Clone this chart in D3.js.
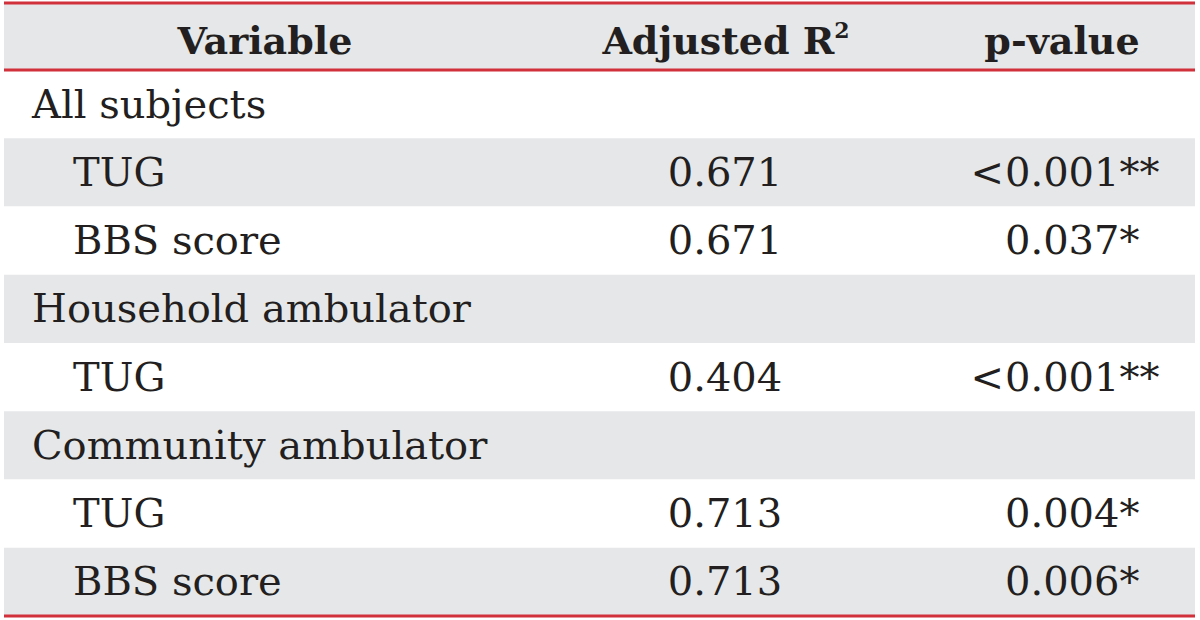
<!DOCTYPE html>
<html>
<head>
<meta charset="utf-8">
<script src="https://cdn.jsdelivr.net/npm/d3@7"></script>
<style>
  html, body { margin: 0; padding: 0; background: #ffffff; }
  svg { display: block; }
  text { font-family: "DejaVu Serif", serif; fill: #231f20; }
</style>
</head>
<body>
<svg id="chart" width="1200" height="620"></svg>
<script>
// ---- data ----
const columns = ["Variable", "Adjusted R", "p-value"];
const variables = ["All subjects", "TUG", "BBS score", "Household ambulator", "TUG", "Community ambulator", "TUG", "BBS score"];
const isGroup = [true, false, false, true, false, true, false, false];
const adjustedR2 = ["", "0.671", "0.671", "", "0.404", "", "0.713", "0.713"];
const pValues = ["", "<0.001**", "0.037*", "", "<0.001**", "", "0.004*", "0.006*"];

const svg = d3.select("#chart");
const left = 4, right = 1195;
const headerTop = 3, headerBottom = 70, tableBottom = 616;
const gray = "#e6e7e9", red = "#d0313b";

const rowIdx = d3.range(variables.length);
const y = d3.scaleBand().domain(rowIdx).range([headerBottom, tableBottom]).padding(0);

// header background
svg.append("rect").attr("x", left).attr("y", headerTop).attr("width", right - left).attr("height", headerBottom - headerTop).attr("fill", gray);

// row backgrounds
svg.selectAll("rect.row").data(rowIdx).join("rect")
  .attr("class", "row")
  .attr("x", left).attr("width", right - left)
  .attr("y", d => y(d)).attr("height", y.bandwidth())
  .attr("fill", d => d % 2 === 1 ? gray : "#ffffff");

// header texts
const hb = 54, hfs = 38;
svg.append("text").attr("x", 265).attr("y", hb).attr("text-anchor", "middle")
  .attr("font-size", hfs).attr("font-weight", "bold").text(columns[0]);
const adj = svg.append("text").attr("x", 726).attr("y", hb).attr("text-anchor", "middle")
  .attr("font-size", hfs).attr("font-weight", "bold");
adj.append("tspan").text(columns[1]);
adj.append("tspan").attr("dy", -16).attr("font-size", 22).text("2");
svg.append("text").attr("x", 1062).attr("y", hb).attr("text-anchor", "middle")
  .attr("font-size", hfs).attr("font-weight", "bold").text(columns[2]);

// body texts
const fs = 40;
const off = 47.5;
svg.selectAll("text.var").data(rowIdx).join("text")
  .attr("class", "var")
  .attr("x", d => isGroup[d] ? 32 : 73)
  .attr("y", d => y(d) + off)
  .attr("font-size", fs)
  .text(d => variables[d]);

svg.selectAll("text.r2").data(rowIdx.filter(d => adjustedR2[d] !== "")).join("text")
  .attr("class", "r2")
  .attr("x", 725).attr("text-anchor", "middle")
  .attr("y", d => y(d) + off)
  .attr("font-size", fs)
  .text(d => adjustedR2[d]);

const pRows = rowIdx.filter(d => pValues[d] !== "");
const px = 1005;
svg.selectAll("text.plt").data(pRows.filter(d => pValues[d].startsWith("<"))).join("text")
  .attr("class", "plt")
  .attr("x", px - 1).attr("text-anchor", "end")
  .attr("y", d => y(d) + off)
  .attr("font-size", fs)
  .text("<");
svg.selectAll("text.p").data(pRows).join("text")
  .attr("class", "p")
  .attr("x", px)
  .attr("y", d => y(d) + off)
  .attr("font-size", fs)
  .text(d => pValues[d].replace("<", ""));

// red rules
[headerTop, headerBottom, tableBottom].forEach(yy => {
  svg.append("line").attr("x1", left).attr("x2", right).attr("y1", yy).attr("y2", yy)
    .attr("stroke", red).attr("stroke-width", 3);
});
</script>
</body>
</html>
